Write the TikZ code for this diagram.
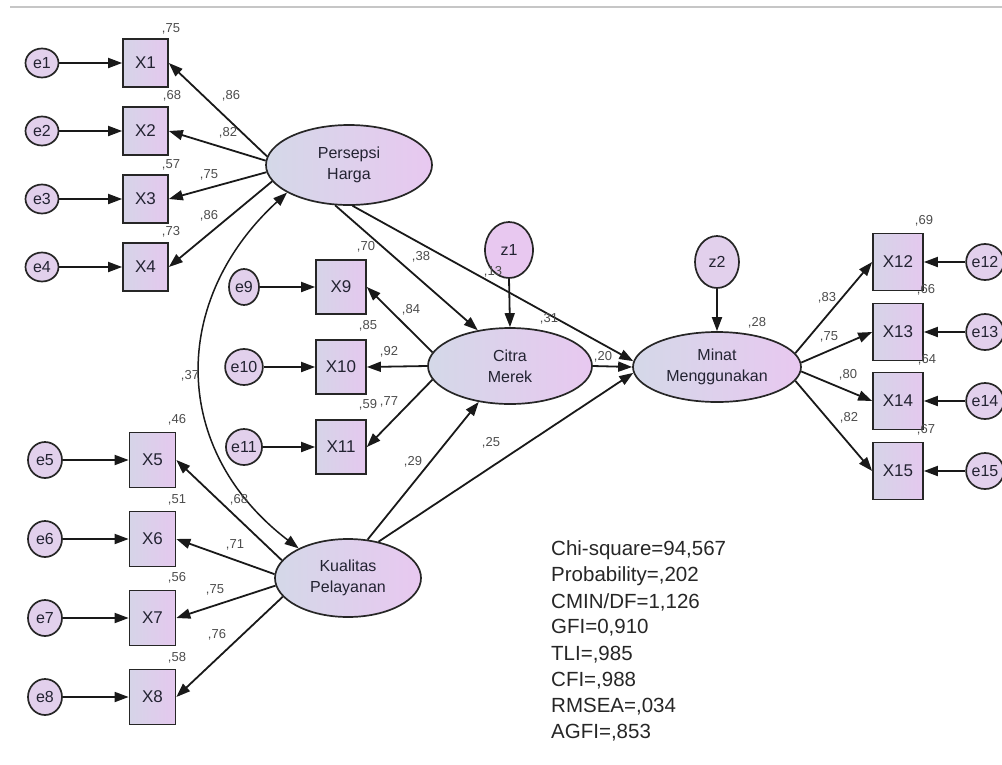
\documentclass[tikz,border=0pt]{standalone}
\usepackage{fontspec}
\setmainfont{Liberation Sans}
\usetikzlibrary{shapes.geometric,arrows.meta}
\definecolor{latL}{RGB}{212,216,232}
\definecolor{latR}{RGB}{232,200,240}
\definecolor{boxL}{RGB}{214,212,232}
\definecolor{boxR}{RGB}{228,200,238}
\definecolor{errC}{RGB}{226,208,236}
\definecolor{txt}{RGB}{35,35,50}
\begin{document}
\begin{tikzpicture}[x=1pt,y=-1pt,
  lat/.style={ellipse,draw=black!85,line width=1.7pt,left color=latL,right color=latR,
    inner sep=0pt,align=center,text=txt,font=\fontsize{16}{21}\selectfont},
  obs/.style={rectangle,draw=black!85,line width=1.7pt,left color=boxL,right color=boxR,
    inner sep=0pt,text=txt,font=\fontsize{17}{19}\selectfont},
  err/.style={ellipse,draw=black!85,line width=1.7pt,fill=errC,inner sep=0pt,text=txt,
    font=\fontsize{16}{18}\selectfont},
  arr/.style={line width=1.8pt,draw=black!90,-{Triangle[length=14pt,width=10pt]}},
  cov/.style={line width=1.5pt,draw=black!90,{Triangle[length=14pt,width=10pt]}-{Triangle[length=14pt,width=10pt]}},
  lbl/.style={inner sep=0pt,text=black!70,font=\fontsize{13}{14}\selectfont},
  stat/.style={inner sep=0pt,anchor=west,text=black!85,font=\fontsize{20.5}{24}\selectfont}]
\useasboundingbox (0,0) rectangle (1002,764);
\draw[gray!45,line width=2pt] (10,7) -- (1002,7);

% latent variables
\node[lat,minimum width=166pt,minimum height=80pt] (PH) at (349,165) {Persepsi\\Harga};
\node[lat,minimum width=164pt,minimum height=76pt] (CM) at (510,366) {Citra\\Merek};
\node[lat,minimum width=168pt,minimum height=70pt] (MM) at (717,367) {Minat\\Menggunakan};
\node[lat,minimum width=146pt,minimum height=78pt] (KP) at (348,578) {Kualitas\\Pelayanan};
\node[err,minimum width=48pt,minimum height=56pt,left color=latR,right color=latR] (z1) at (509,250) {z1};
\node[err,minimum width=44pt,minimum height=52pt] (z2) at (717,262) {z2};

% observed X1-X4
\foreach \i/\y in {1/63,2/131,3/199,4/267}{
  \node[obs,minimum width=45pt,minimum height=48pt] (X\i) at (145.5,\y) {X\i};
  \node[err,minimum width=33pt,minimum height=29pt] (e\i) at (42,\y) {e\i};
  \draw[arr] (e\i.east) -- (X\i.west);
}
% observed X5-X8
\foreach \i/\y in {5/460,6/539,7/618,8/697}{
  \node[obs,minimum width=46pt,minimum height=55pt] (X\i) at (152.5,\y) {X\i};
  \node[err,minimum width=34pt,minimum height=36pt] (e\i) at (45,\y) {e\i};
  \draw[arr] (e\i.east) -- (X\i.west);
}
% observed X9-X11
\foreach \i/\y in {9/287,10/367,11/447}{
  \node[obs,minimum width=50pt,minimum height=54pt] (X\i) at (341,\y) {X\i};
  \node[err,minimum width=30pt,minimum height=36pt] (e\i) at (244,\y) {e\i};
  \draw[arr] (e\i.east) -- (X\i.west);
}
% observed X12-X15
\foreach \i/\y in {12/262,13/332,14/401,15/471}{
  \node[obs,minimum width=50pt,minimum height=57pt] (X\i) at (898,\y) {X\i};
  \node[err,minimum width=34pt,minimum height=36pt] (e\i) at (985,\y) {e\i};
  \draw[arr] (e\i.west) -- (X\i.east);
}

% loadings
\draw[arr] (PH.174) -- (X1.east);
\draw[arr] (PH.177) -- (X2.east);
\draw[arr] (PH.185) -- (X3.east);
\draw[arr] (PH.192) -- (X4.east);
\draw[arr] (KP.165) -- (X5.east);
\draw[arr] (KP.177) -- (X6.east);
\draw[arr] (KP.186) -- (X7.east);
\draw[arr] (KP.196) -- (X8.east);
\draw[arr] (CM.170) -- (X9.east);
\draw[arr] (CM.west) -- (X10.east);
\draw[arr] (CM.190) -- (X11.east);
\draw[arr] (MM.10) -- (X12.west);
\draw[arr] (MM.3) -- (X13.west);
\draw[arr] (MM.357) -- (X14.west);
\draw[arr] (MM.350) -- (X15.west);

% structural paths
\draw[arr] (PH.251) -- (CM.132);
\draw[arr] (PH.275) -- (MM.176);
\draw[arr] (CM.east) -- (MM.west);
\draw[arr] (KP.63) -- (CM.229);
\draw[arr] (KP.50) -- (MM.184);
\draw[arr] (z1.south) -- (CM.north);
\draw[arr] (z2.south) -- (MM.north);
\draw[cov] (PH.204) .. controls (170,300) and (170,450) .. (KP.149);

% labels
\node[lbl] at (171,29) {,75};
\node[lbl] at (172,96) {,68};
\node[lbl] at (171,165) {,57};
\node[lbl] at (171,232) {,73};
\node[lbl] at (231,96) {,86};
\node[lbl] at (228,133) {,82};
\node[lbl] at (209,175) {,75};
\node[lbl] at (209,216) {,86};

\node[lbl] at (177,420) {,46};
\node[lbl] at (177,500) {,51};
\node[lbl] at (177,578) {,56};
\node[lbl] at (177,658) {,58};
\node[lbl] at (239,500) {,68};
\node[lbl] at (235,545) {,71};
\node[lbl] at (215,590) {,75};
\node[lbl] at (217,635) {,76};

\node[lbl] at (366,247) {,70};
\node[lbl] at (368,326) {,85};
\node[lbl] at (368,405) {,59};
\node[lbl] at (411,310) {,84};
\node[lbl] at (389,352) {,92};
\node[lbl] at (389,402) {,77};

\node[lbl] at (421,257) {,38};
\node[lbl] at (493,272) {,13};
\node[lbl] at (549,319) {,31};
\node[lbl] at (603,357) {,20};
\node[lbl] at (491,443) {,25};
\node[lbl] at (413,462) {,29};
\node[lbl] at (190,376) {,37};

\node[lbl] at (757,323) {,28};
\node[lbl] at (827,298) {,83};
\node[lbl] at (829,337) {,75};
\node[lbl] at (848,375) {,80};
\node[lbl] at (849,418) {,82};
\node[lbl] at (924,221) {,69};
\node[lbl] at (926,290) {,66};
\node[lbl] at (927,360) {,64};
\node[lbl] at (926,430) {,67};

% fit statistics
\node[stat] (s1) at (551,550) {Chi-square=94,567};
\node[stat] (s2) at (551,576) {Probability=,202};
\node[stat] (s3) at (551,602) {CMIN/DF=1,126};
\node[stat] (s4) at (551,628) {GFI=0,910};
\node[stat] (s5) at (551,655) {TLI=,985};
\node[stat] (s6) at (551,681) {CFI=,988};
\node[stat] (s7) at (551,707) {RMSEA=,034};
\node[stat] (s8) at (551,733) {AGFI=,853};
\end{tikzpicture}
\end{document}
